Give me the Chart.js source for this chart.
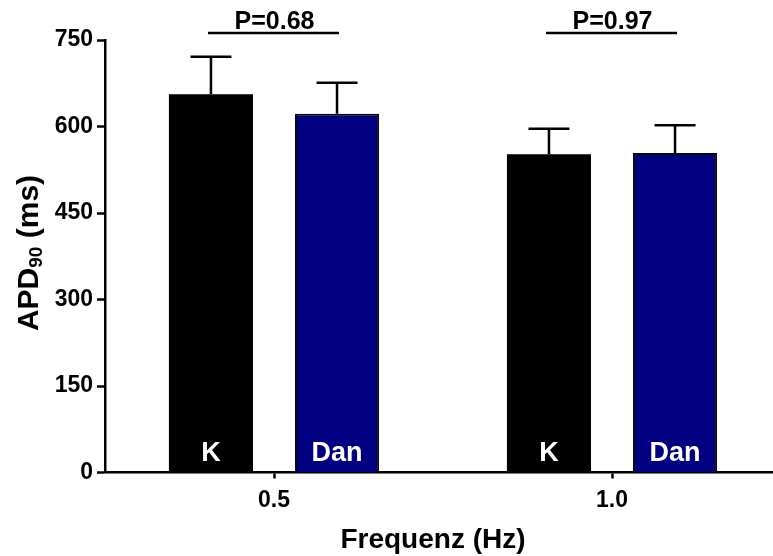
<!DOCTYPE html>
<html>
<head>
<meta charset="utf-8">
<script src="https://cdn.jsdelivr.net/npm/chart.js@4/dist/chart.umd.min.js"></script>
<style>
  html, body { margin: 0; padding: 0; background: #ffffff; overflow: hidden; width: 773px; height: 556px; }
  #wrap { width: 781px; height: 556px; }
</style>
</head>
<body>
<div id="wrap"><canvas id="c" width="781" height="556"></canvas></div>
<script>
const categories = ['0.5', '1.0'];
const seriesNames = ['K', 'Dan'];
const kMeans = [656, 552];
const kErr = [65, 44];
const danMeans = [622, 554];
const danErr = [54, 48];
const pLabels = ['P=0.68', 'P=0.97'];
const pLineValue = 762;
const yTicks = [0, 150, 300, 450, 600, 750];
const xTitle = 'Frequenz (Hz)';
const yTitleMain = 'APD';
const yTitleSub = '90';
const yTitleEnd = ' (ms)';

const FONT = '"Liberation Sans", Arial, Helvetica, sans-serif';
const errs = [kErr, danErr];

const overlay = {
  id: 'overlay',
  afterDatasetsDraw(chart) {
    const ctx = chart.ctx;
    const y = chart.scales.y;
    ctx.save();
    // error bars
    ctx.strokeStyle = '#000';
    ctx.lineWidth = 2.5;
    chart.data.datasets.forEach((ds, di) => {
      const meta = chart.getDatasetMeta(di);
      meta.data.forEach((bar, i) => {
        const top = y.getPixelForValue(ds.data[i] + errs[di][i]);
        const base = y.getPixelForValue(ds.data[i]);
        ctx.beginPath();
        ctx.moveTo(bar.x, base);
        ctx.lineTo(bar.x, top);
        ctx.moveTo(bar.x - 20.5, top);
        ctx.lineTo(bar.x + 20.5, top);
        ctx.stroke();
      });
    });
    // bar inner labels
    ctx.fillStyle = '#fff';
    ctx.font = 'bold 27px ' + FONT;
    ctx.textAlign = 'center';
    ctx.textBaseline = 'alphabetic';
    chart.data.datasets.forEach((ds, di) => {
      const meta = chart.getDatasetMeta(di);
      meta.data.forEach((bar) => {
        ctx.fillText(seriesNames[di], bar.x, y.getPixelForValue(0) - 12);
      });
    });
    // significance lines
    const m0 = chart.getDatasetMeta(0), m1 = chart.getDatasetMeta(1);
    const ly = y.getPixelForValue(pLineValue);
    ctx.fillStyle = '#000';
    ctx.font = 'bold 25px ' + FONT;
    ctx.textBaseline = 'alphabetic';
    categories.forEach((c, i) => {
      const x0 = m0.data[i].x - 3, x1 = m1.data[i].x + 2;
      ctx.beginPath();
      ctx.moveTo(x0, ly);
      ctx.lineTo(x1, ly);
      ctx.stroke();
      ctx.fillText(pLabels[i], (x0 + x1) / 2 + 1, ly - 4);
    });
    ctx.restore();
  },
  afterDraw(chart) {
    const ctx = chart.ctx;
    ctx.save();
    ctx.fillStyle = '#000';
    // x title
    ctx.font = 'bold 28px ' + FONT;
    ctx.textAlign = 'center';
    ctx.textBaseline = 'middle';
    ctx.fillText(xTitle, 433, 540);
    // y title with subscript
    ctx.translate(30, 253);
    ctx.rotate(-Math.PI / 2);
    ctx.textAlign = 'left';
    ctx.textBaseline = 'middle';
    const big = 'bold 30px ' + FONT, small = 'bold 19px ' + FONT;
    ctx.font = big; const w1 = ctx.measureText(yTitleMain).width; const w3 = ctx.measureText(yTitleEnd).width;
    ctx.font = small; const w2 = ctx.measureText(yTitleSub).width;
    let x = -(w1 + w2 + w3) / 2;
    ctx.font = big; ctx.fillText(yTitleMain, x, 0); x += w1;
    ctx.font = small; ctx.fillText(yTitleSub, x, 7); x += w2;
    ctx.font = big; ctx.fillText(yTitleEnd, x, 0);
    ctx.restore();
  }
};

new Chart(document.getElementById('c'), {
  type: 'bar',
  data: {
    labels: categories,
    datasets: [
      { label: seriesNames[0], data: kMeans, backgroundColor: '#000000', borderColor: '#000000', borderWidth: 0 },
      { label: seriesNames[1], data: danMeans, backgroundColor: '#000080', borderColor: '#0a0a0a', borderWidth: 2 }
    ]
  },
  options: {
    responsive: false,
    animation: false,
    devicePixelRatio: 1,
    categoryPercentage: 0.746,
    barPercentage: 0.667,
    layout: { padding: { top: 40, left: 0, right: 0, bottom: 0 } },
    plugins: { legend: { display: false }, tooltip: { enabled: false }, title: { display: false } },
    scales: {
      x: {
        offset: true,
        grid: { display: true, offset: false, drawOnChartArea: false, drawTicks: true, tickLength: 6, tickColor: '#000', tickWidth: 2.5 },
        border: { display: true, color: '#000', width: 2.5 },
        ticks: { color: '#000', font: { family: FONT, weight: 'bold', size: 23 }, padding: 8, maxRotation: 0 },
        afterFit(s) { s.height = 83.5; }
      },
      y: {
        min: 0, max: 750,
        afterBuildTicks(s) { s.ticks = yTicks.map(v => ({ value: v })); },
        grid: { display: true, drawOnChartArea: false, drawTicks: true, tickLength: 8, tickColor: '#000', tickWidth: 2.5 },
        border: { display: true, color: '#000', width: 2.5 },
        ticks: { color: '#000', font: { family: FONT, weight: 'bold', size: 23 }, padding: 4 },
        afterFit(s) { s.width = 105; }
      }
    }
  },
  plugins: [overlay]
});
</script>
</body>
</html>
